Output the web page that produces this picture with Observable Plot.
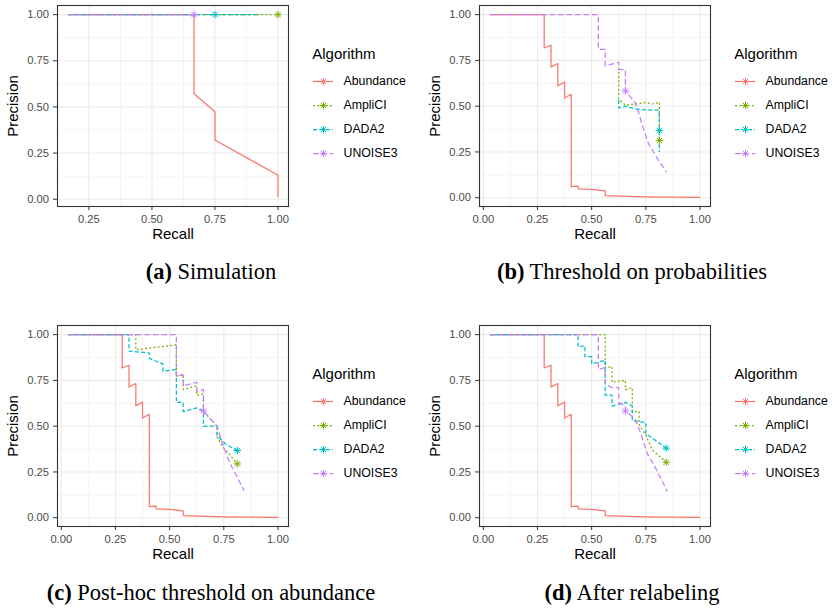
<!DOCTYPE html>
<html><head><meta charset="utf-8">
<script src="https://cdn.jsdelivr.net/npm/d3@7"></script>
<script src="https://cdn.jsdelivr.net/npm/@observablehq/plot@0.6"></script>
<style>
body{margin:0;background:#fff;}
#root{position:relative;width:832px;height:608px;overflow:hidden;font-family:"Liberation Sans",Arial,sans-serif;}
#root svg{position:absolute;}
.cap{position:absolute;font-family:"Liberation Serif","Times New Roman",serif;font-size:22.5px;color:#000;transform:translate(-50%,-50%);white-space:nowrap;line-height:1;}
</style></head><body><div id="root"></div>
<script>
const algorithms = ["Abundance","AmpliCI","DADA2","UNOISE3"];
const algoColors = ["#F8766D","#7CAE00","#00BFC4","#C77CFF"];
const algoDashes = [undefined,"2,2.2","4.2,2.2","5.5,3"];
const xTicksSim = [0.25,0.5,0.75,1.0];
const xTicksAll = [0,0.25,0.5,0.75,1.0];
const yTicks = [0,0.25,0.5,0.75,1.0];
const minorTicks = [0.125,0.375,0.625,0.875];
const captions = [["(a)"," Simulation"],["(b)"," Threshold on probabilities"],["(c)"," Post-hoc threshold on abundance"],["(d)"," After relabeling"]];

// (a) Simulation: [recall, precision]
const simAbundance = [[0.167,1],[0.667,1],[0.667,0.571],[0.75,0.474],[0.75,0.321],[1,0.13],[1,0.01]];
const simAmpliCI = [[0.167,1],[1,1]];
const simDADA2 = [[0.167,1],[0.917,1]];
const simUNOISE3 = [[0.167,1],[0.667,1]];
const simStars = [["AmpliCI",1,1],["DADA2",0.75,1],["UNOISE3",0.667,1]];

// Abundance ranking (shared by b, c, d)
const abundanceCurve = [[0.031,1],[0.281,1],[0.281,0.818],[0.3125,0.833],[0.3125,0.714],[0.344,0.733],[0.344,0.611],[0.375,0.632],[0.375,0.545],[0.406,0.565],[0.406,0.06],[0.4375,0.064],[0.4375,0.048],[0.5,0.045],[0.531,0.041],[0.5625,0.037],[0.5625,0.012],[0.75,0.005],[1,0.002]];

// (b) Threshold on probabilities
const thrAmpliCI = [[0.625,0.71],[0.625,0.54],[0.656,0.505],[0.70,0.513],[0.75,0.52],[0.78,0.512],[0.8125,0.522],[0.8125,0.312]];
const thrDADA2 = [[0.625,0.535],[0.625,0.49],[0.656,0.50],[0.70,0.485],[0.75,0.48],[0.8125,0.478],[0.8125,0.25]];
const thrUNOISE3 = [[0.031,1],[0.531,1],[0.531,0.81],[0.5625,0.81],[0.5625,0.72],[0.625,0.74],[0.625,0.70],[0.656,0.70],[0.656,0.583],[0.70,0.52],[0.717,0.467],[0.732,0.40],[0.763,0.294],[0.80,0.22],[0.845,0.14]];
const thrStars = [["AmpliCI",0.8125,0.312],["DADA2",0.8125,0.367],["UNOISE3",0.656,0.583]];

// (c) Post-hoc threshold on abundance
const phAmpliCI = [[0.031,1],[0.344,1],[0.344,0.917],[0.531,0.944],[0.531,0.773],[0.5625,0.783],[0.5625,0.70],[0.625,0.72],[0.625,0.667],[0.656,0.677],[0.656,0.58],[0.719,0.50],[0.719,0.44],[0.75,0.38],[0.78,0.34],[0.8125,0.294]];
const phDADA2 = [[0.031,1],[0.3125,1],[0.3125,0.91],[0.406,0.90],[0.406,0.87],[0.469,0.84],[0.469,0.80],[0.531,0.81],[0.531,0.63],[0.5625,0.63],[0.5625,0.58],[0.625,0.60],[0.656,0.58],[0.656,0.50],[0.719,0.50],[0.719,0.45],[0.76,0.40],[0.8125,0.367]];
const phUNOISE3 = [[0.031,1],[0.531,1],[0.531,0.773],[0.5625,0.78],[0.5625,0.72],[0.625,0.74],[0.625,0.69],[0.656,0.70],[0.656,0.583],[0.719,0.50],[0.74,0.42],[0.76,0.35],[0.79,0.27],[0.844,0.148]];
const phStars = [["AmpliCI",0.8125,0.294],["DADA2",0.8125,0.367],["UNOISE3",0.656,0.583]];

// (d) After relabeling
const relAmpliCI = [[0.031,1],[0.5625,1],[0.5625,0.82],[0.594,0.825],[0.594,0.74],[0.656,0.75],[0.656,0.70],[0.6875,0.71],[0.6875,0.58],[0.719,0.58],[0.719,0.51],[0.75,0.45],[0.78,0.37],[0.844,0.303]];
const relDADA2 = [[0.031,1],[0.4375,1],[0.4375,0.933],[0.469,0.94],[0.469,0.88],[0.5,0.88],[0.5,0.84],[0.5625,0.86],[0.5625,0.67],[0.594,0.67],[0.594,0.61],[0.656,0.63],[0.6875,0.61],[0.6875,0.53],[0.75,0.52],[0.75,0.46],[0.844,0.38]];
const relUNOISE3 = [[0.031,1],[0.531,1],[0.531,0.81],[0.5625,0.82],[0.5625,0.73],[0.594,0.71],[0.625,0.71],[0.625,0.63],[0.656,0.61],[0.656,0.583],[0.69,0.55],[0.704,0.53],[0.73,0.45],[0.757,0.35],[0.80,0.26],[0.849,0.144]];
const relStars = [["AmpliCI",0.844,0.303],["DADA2",0.844,0.38],["UNOISE3",0.656,0.583]];

const ggAsterisk = {
  draw(context, size) {
    const r = Math.sqrt(size / Math.PI), d = r * Math.SQRT1_2;
    context.moveTo(-r, 0); context.lineTo(r, 0);
    context.moveTo(0, -r); context.lineTo(0, r);
    context.moveTo(-d, -d); context.lineTo(d, d);
    context.moveTo(-d, d); context.lineTo(d, -d);
  }
};

const style = {fontFamily: "'Liberation Sans', Arial, sans-serif", background: "transparent", color: "#000", overflow: "visible"};
const expand = ([a, b]) => { const p = (b - a) * 0.05; return [a - p, b + p]; };

function panel(series, stars, xTicks) {
  const all = series.flat().concat(stars.map(s => [s[1], s[2]]));
  const xd = expand(d3.extent(all, d => d[0]));
  const yd = expand(d3.extent(all, d => d[1]));
  const minorX = minorTicks.filter(t => t > xd[0] && t < xd[1]);
  const minorY = minorTicks.filter(t => t > yd[0] && t < yd[1]);
  const grid = {stroke: "#EBEBEB", strokeOpacity: 1};
  return Plot.plot({
    width: 290, height: 248, marginLeft: 57, marginRight: 2, marginTop: 5, marginBottom: 42,
    x: {domain: xd}, y: {domain: yd},
    color: {domain: algorithms, range: algoColors},
    style,
    marks: [
      Plot.gridX(minorX, {...grid, strokeWidth: 0.55}),
      Plot.gridY(minorY, {...grid, strokeWidth: 0.55}),
      Plot.gridX(xTicks, {...grid, strokeWidth: 1.1}),
      Plot.gridY(yTicks, {...grid, strokeWidth: 1.1}),
      ...series.map((s, i) => Plot.line(s, {x: d => d[0], y: d => d[1], stroke: algoColors[i], strokeWidth: 1.25, strokeDasharray: algoDashes[i], strokeLinecap: "butt"})),
      Plot.dot(stars, {x: d => d[1], y: d => d[2], stroke: d => d[0], fill: "none", symbol: ggAsterisk, r: 3.8, strokeWidth: 1}),
      Plot.frame({stroke: "#333333", strokeWidth: 1.1}),
      Plot.axisX(xTicks, {tickSize: 4, tickPadding: 4.5, tickFormat: d3.format(".2f"), fontSize: 11.2, fill: "#4D4D4D", stroke: "#333333", label: null}),
      Plot.axisY(yTicks, {tickSize: 4, tickPadding: 4.5, tickFormat: d3.format(".2f"), fontSize: 11.2, fill: "#4D4D4D", stroke: "#333333", label: null}),
      Plot.text(["Recall"], {text: d => d, frameAnchor: "bottom", dy: 27.5, lineAnchor: "middle", textAnchor: "middle", fontSize: 15, fill: "#000"}),
      Plot.text(["Precision"], {text: d => d, frameAnchor: "left", dx: -44, rotate: -90, lineAnchor: "middle", textAnchor: "middle", fontSize: 15, fill: "#000"})
    ]
  });
}

function legend() {
  return Plot.plot({
    width: 115, height: 135, margin: 0,
    x: {domain: [0, 1], range: [8, 28], axis: null},
    y: {type: "point", domain: algorithms, range: [45.7, 118.3], padding: 0, axis: null},
    color: {domain: algorithms, range: algoColors},
    style,
    marks: [
      ...algorithms.map((a, i) => Plot.ruleY([a], {y: d => d, x1: 0, x2: 1, stroke: algoColors[i], strokeWidth: 1.25, strokeDasharray: algoDashes[i]})),
      Plot.dot(algorithms, {x: 0.5, y: d => d, stroke: d => d, fill: "none", symbol: ggAsterisk, r: 3.8, strokeWidth: 1}),
      Plot.text(algorithms, {x: 1, y: d => d, text: d => d, dx: 10, textAnchor: "start", lineAnchor: "middle", fontSize: 12.3, fill: "#000"}),
      Plot.text(["Algorithm"], {text: d => d, frameAnchor: "top-left", dx: 6.7, dy: 18.5, textAnchor: "start", lineAnchor: "middle", fontSize: 15, fill: "#000"})
    ]
  });
}

const root = document.getElementById("root");
const panels = [
  [[simAbundance, simAmpliCI, simDADA2, simUNOISE3], simStars, xTicksSim],
  [[abundanceCurve, thrAmpliCI, thrDADA2, thrUNOISE3], thrStars, xTicksAll],
  [[abundanceCurve, phAmpliCI, phDADA2, phUNOISE3], phStars, xTicksAll],
  [[abundanceCurve, relAmpliCI, relDADA2, relUNOISE3], relStars, xTicksAll]
];
panels.forEach(([series, stars, ticks], k) => {
  const left = (k % 2) * 422, top = Math.floor(k / 2) * 320;
  const p = panel(series, stars, ticks);
  p.style.left = left + "px"; p.style.top = top + "px";
  root.appendChild(p);
  const l = legend();
  l.style.left = (left + 305) + "px"; l.style.top = (top + 35) + "px";
  root.appendChild(l);
  const c = document.createElement("div");
  c.className = "cap";
  c.style.left = (k % 2 ? 632 : 211) + "px";
  c.style.top = (k < 2 ? 272 : 593) + "px";
  const b = document.createElement("b"); b.textContent = captions[k][0];
  c.appendChild(b); c.appendChild(document.createTextNode(captions[k][1]));
  root.appendChild(c);
});
</script>
</body></html>
